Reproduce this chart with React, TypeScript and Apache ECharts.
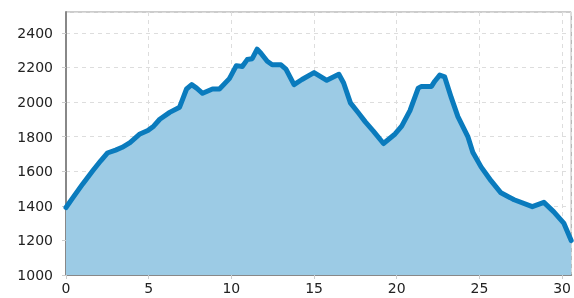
import React, { useEffect, useRef } from "react";
import * as echarts from "echarts";

const xValues = [0, 0.44, 1.0, 1.64, 2.1, 2.5, 3.0, 3.4, 3.87, 4.47, 4.95, 5.3, 5.67, 6.27, 6.87, 7.29, 7.6, 7.9, 8.26, 8.86, 9.28, 9.88, 10.3, 10.66, 10.96, 11.26, 11.56, 11.8, 12.17, 12.47, 13.0, 13.3, 13.79, 14.27, 15.0, 15.77, 16.5, 16.79, 17.2, 17.7, 18.1, 18.6, 19.2, 19.9, 20.3, 20.8, 21.3, 21.5, 22.1, 22.3, 22.6, 22.9, 23.3, 23.7, 24.3, 24.6, 25.1, 25.7, 26.3, 27.1, 28.2, 28.9, 29.5, 30.1, 30.55];
const yValues = [1390, 1450, 1525, 1605, 1660, 1705, 1722, 1738, 1765, 1815, 1835, 1860, 1900, 1940, 1970, 2075, 2100, 2080, 2050, 2075, 2075, 2135, 2210, 2205, 2245, 2250, 2305, 2280, 2235, 2215, 2215, 2190, 2100, 2130, 2170, 2125, 2160, 2110, 1995, 1935, 1885, 1830, 1760, 1815, 1860, 1950, 2080, 2090, 2090, 2120, 2155, 2145, 2025, 1915, 1800, 1710, 1625, 1545, 1475, 1435, 1395, 1420, 1365, 1300, 1200];

const xMin = 0;
const xMax = 30.55;
const xStep = 5;
const yMin = 1000;
const yMax = 2520;
const yStep = 200;

export default function App() {
  const ref = useRef<HTMLDivElement>(null);
  useEffect(() => {
    if (!ref.current) return;
    const chart = echarts.init(ref.current, null, { renderer: "svg" });
    const data = xValues.map((x, i) => [x, yValues[i]]);
    const labelStyle = {
      color: "#222",
      fontSize: 14,
      fontFamily: "DejaVu Sans",
      formatter: (v: number) => String(v),
    };
    chart.setOption({
      animation: false,
      grid: {
        left: 66,
        top: 12,
        right: 0,
        bottom: 23,
        show: true,
        borderColor: "#999",
        borderWidth: 1,
      },
      xAxis: {
        type: "value",
        min: xMin,
        max: xMax,
        interval: xStep,
        axisLine: { show: true, lineStyle: { color: "#888", width: 2 } },
        axisTick: { show: true, length: 4, lineStyle: { color: "#ccc" } },
        axisLabel: { ...labelStyle, margin: 6, showMaxLabel: false },
        splitLine: { show: true, lineStyle: { color: "#ddd", type: [4, 4] } },
      },
      yAxis: {
        type: "value",
        min: yMin,
        max: yMax,
        interval: yStep,
        axisLine: { show: true, lineStyle: { color: "#888", width: 2 } },
        axisTick: { show: true, length: 4, lineStyle: { color: "#ccc" } },
        axisLabel: { ...labelStyle, margin: 13, showMaxLabel: false },
        splitLine: { show: true, lineStyle: { color: "#ddd", type: [4, 4] } },
      },
      series: [
        {
          type: "line",
          data,
          showSymbol: false,
          symbol: "none",
          lineStyle: { color: "#0a7bbd", width: 5, cap: "round", join: "round" },
          areaStyle: { color: "#9ccbe5", opacity: 1 },
          z: 3,
        },
      ],
    });
    return () => chart.dispose();
  }, []);
  return (
    <div
      ref={ref}
      style={{ position: "fixed", left: 0, top: 0, width: 574, height: 298 }}
    />
  );
}
